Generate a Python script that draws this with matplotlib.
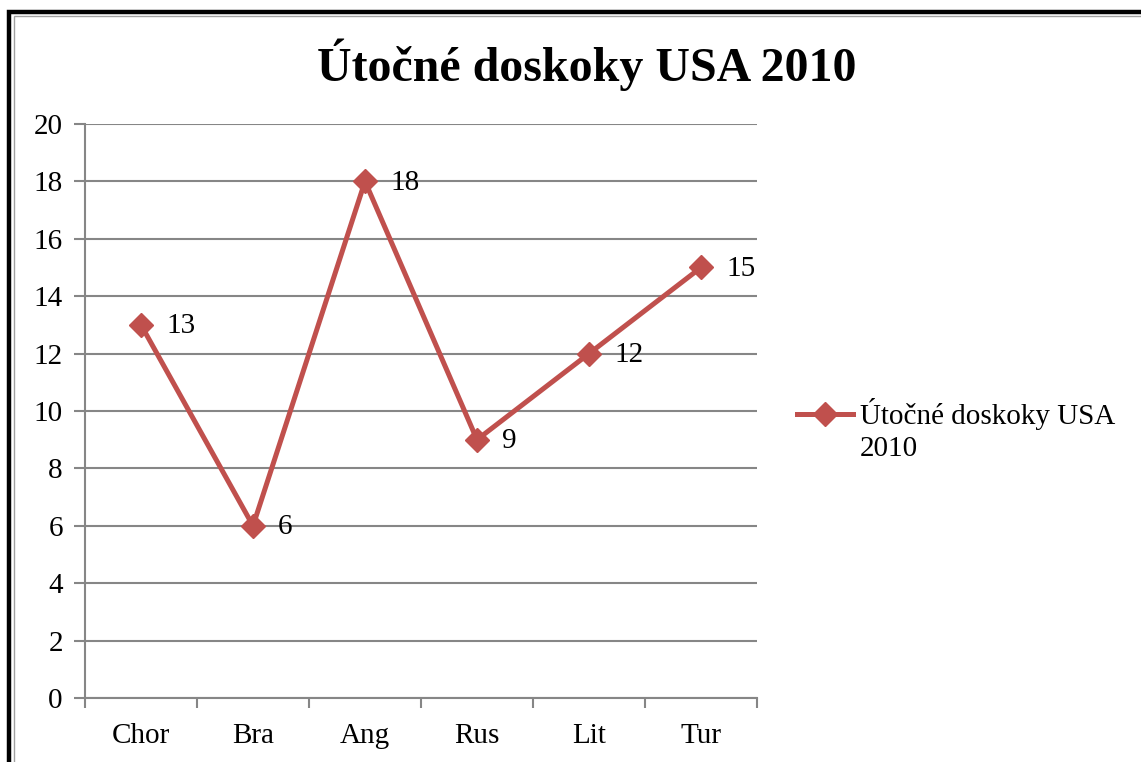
import matplotlib
matplotlib.use("Agg")
import matplotlib.pyplot as plt
from matplotlib.patches import Rectangle
from matplotlib.lines import Line2D

categories = ["Chor", "Bra", "Ang", "Rus", "Lit", "Tur"]
values = [13, 6, 18, 9, 12, 15]
series_name = "Útočné doskoky USA 2010"
legend_label = "Útočné doskoky USA\n2010"
yticks = [0, 2, 4, 6, 8, 10, 12, 14, 16, 18, 20]

plt.rcParams['font.family'] = ['Liberation Serif', 'DejaVu Serif']

W, H = 1141, 762
fig = plt.figure(figsize=(W / 100, H / 100), dpi=100)

# border
fig.patches.append(Rectangle((9 / W, -0.1), 2.0, 1.1 - 12 / H, transform=fig.transFigure,
                             fill=False, edgecolor='black', linewidth=3.2, zorder=0))
fig.patches.append(Rectangle((13.5 / W, -0.1), 2.0, 1.1 - 15.5 / H, transform=fig.transFigure,
                             fill=False, edgecolor='#A0A0A0', linewidth=1.0, zorder=0))

FS = 21
ax = fig.add_axes([85 / W, 1 - 698 / H, 672 / W, 574 / H])
color = '#C0504D'
grid = '#868686'
x = list(range(len(categories)))
ax.plot(x, values, color=color, linewidth=3.6, marker='D', markersize=12,
        markerfacecolor=color, markeredgecolor=color, label=legend_label, zorder=3,
        solid_joinstyle='miter')
for xi, v in zip(x, values):
    ax.annotate(str(v), (xi, v), xytext=(18, -1), textcoords='offset points',
                ha='left', va='center', fontsize=FS, color='black')

ax.set_xlim(-0.5, len(categories) - 0.5)
ax.set_ylim(0, 20)
ax.set_yticks(yticks)
ax.set_yticklabels([str(t) for t in yticks], fontsize=FS)
ax.set_xticks(x)
ax.set_xticklabels(categories, fontsize=FS)
ax.set_xticks([i - 0.5 for i in range(len(categories) + 1)], minor=True)
ax.tick_params(axis='x', which='major', length=0, pad=18)
ax.tick_params(axis='x', which='minor', length=7, width=1.5, color=grid, direction='out')
ax.tick_params(axis='y', length=8, width=1.5, color=grid, direction='out', pad=8)
for s in ['top', 'right']:
    ax.spines[s].set_visible(False)
ax.spines['left'].set_color(grid)
ax.spines['bottom'].set_color(grid)
ax.spines['left'].set_linewidth(1.5)
ax.spines['bottom'].set_linewidth(1.5)
ax.grid(axis='y', color=grid, linewidth=1.5)
ax.set_axisbelow(True)

fig.text(587 / W, 1 - 65 / H, series_name, ha='center', va='center',
         fontsize=34.5, fontweight='bold')

# legend (handle aligned with first line of the wrapped label)
fig.add_artist(Line2D([797 / W, 853 / W], [1 - 414 / H, 1 - 414 / H], transform=fig.transFigure,
                      color=color, linewidth=3.6))
fig.add_artist(Line2D([825 / W], [1 - 414 / H], transform=fig.transFigure, linestyle='none',
                      marker='D', markersize=12, color=color))
fig.text(860 / W, 1 - 398 / H, legend_label, ha='left', va='top', fontsize=FS,
         linespacing=1.3)

fig.savefig("out.png", dpi=100)
